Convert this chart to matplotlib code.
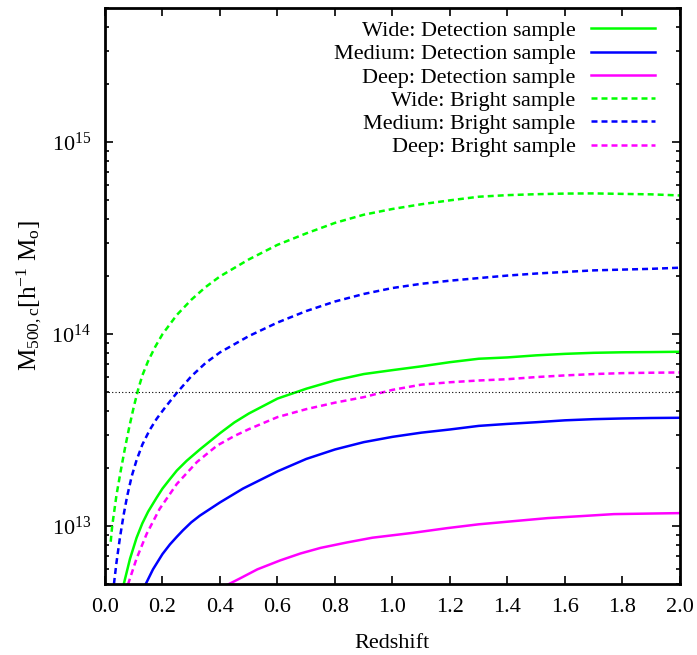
import math
import matplotlib
matplotlib.use("Agg")
import matplotlib.pyplot as plt
from matplotlib.ticker import LogLocator, MultipleLocator, NullFormatter, FixedLocator

plt.rcParams['font.family'] = ['Liberation Serif', 'DejaVu Serif']
plt.rcParams['mathtext.fontset'] = 'stix'

# redshift / mass values (M in h^-1 Msun)
z_wide_det = [0.06, 0.065, 0.087, 0.11, 0.13, 0.15, 0.18, 0.20, 0.226, 0.25, 0.284, 0.33,
              0.40, 0.45, 0.50, 0.60, 0.70, 0.80, 0.90, 1.00, 1.10, 1.20, 1.30, 1.40,
              1.50, 1.60, 1.70, 1.80, 1.90, 2.00]
m_wide_det = [4.57e12, 4.97e12, 6.76e12, 8.71e12, 1.035e13, 1.19e13, 1.41e13, 1.57e13, 1.76e13,
              1.95e13, 2.19e13, 2.51e13, 3.05e13, 3.47e13, 3.86e13, 4.62e13, 5.2e13, 5.75e13,
              6.2e13, 6.5e13, 6.8e13, 7.15e13, 7.45e13, 7.57e13, 7.76e13, 7.9e13, 8.0e13,
              8.05e13, 8.07e13, 8.1e13]

z_med_det = [0.141, 0.167, 0.20, 0.226, 0.25, 0.271, 0.30, 0.33, 0.40, 0.48, 0.60, 0.70,
             0.80, 0.90, 1.00, 1.10, 1.20, 1.30, 1.40, 1.50, 1.60, 1.70, 1.80, 1.90, 2.00]
m_med_det = [4.97e12, 5.96e12, 7.16e12, 8.04e12, 8.81e12, 9.51e12, 1.047e13, 1.135e13, 1.33e13,
             1.57e13, 1.93e13, 2.24e13, 2.51e13, 2.74e13, 2.92e13, 3.07e13, 3.19e13, 3.33e13,
             3.41e13, 3.48e13, 3.56e13, 3.61e13, 3.64e13, 3.66e13, 3.67e13]

z_deep_det = [0.428, 0.47, 0.53, 0.61, 0.68, 0.75, 0.84, 0.93, 1.07, 1.19, 1.30, 1.42,
              1.54, 1.65, 1.77, 1.90, 2.00]
m_deep_det = [4.97e12, 5.35e12, 5.96e12, 6.64e12, 7.21e12, 7.71e12, 8.22e12, 8.71e12, 9.23e12,
              9.77e12, 1.023e13, 1.062e13, 1.102e13, 1.127e13, 1.156e13, 1.164e13, 1.17e13]

z_wide_br = [0.020, 0.025, 0.04, 0.055, 0.07, 0.085, 0.10, 0.115, 0.13, 0.15, 0.175, 0.20,
             0.25, 0.30, 0.35, 0.40, 0.50, 0.60, 0.70, 0.80, 0.90, 1.00, 1.10, 1.20,
             1.30, 1.40, 1.50, 1.60, 1.70, 1.80, 1.90, 2.00]
m_wide_br = [8.3e12, 1.0e13, 1.45e13, 1.95e13, 2.57e13, 3.31e13, 4.17e13, 5.13e13, 6.1e13,
             7.24e13, 8.61e13, 1.0e14, 1.26e14, 1.51e14, 1.76e14, 2.0e14, 2.45e14, 2.92e14,
             3.35e14, 3.8e14, 4.19e14, 4.49e14, 4.75e14, 4.98e14, 5.2e14, 5.3e14, 5.36e14,
             5.4e14, 5.41e14, 5.38e14, 5.35e14, 5.28e14]

z_med_br = [0.02, 0.031, 0.04, 0.052, 0.065, 0.077, 0.093, 0.11, 0.13, 0.155, 0.18, 0.21,
            0.25, 0.30, 0.35, 0.40, 0.50, 0.60, 0.70, 0.80, 0.90, 1.00, 1.10, 1.20,
            1.30, 1.40, 1.50, 1.60, 1.70, 1.80, 1.90, 2.00]
m_med_br = [3.5e12, 4.97e12, 6.46e12, 8.71e12, 1.148e13, 1.429e13, 1.82e13, 2.21e13, 2.66e13,
            3.16e13, 3.63e13, 4.17e13, 4.95e13, 6.03e13, 7.08e13, 8.04e13, 9.77e13, 1.15e14,
            1.32e14, 1.48e14, 1.62e14, 1.74e14, 1.83e14, 1.90e14, 1.96e14, 2.02e14, 2.07e14,
            2.11e14, 2.15e14, 2.17e14, 2.19e14, 2.22e14]

z_deep_br = [0.08, 0.11, 0.145, 0.19, 0.25, 0.32, 0.39, 0.45, 0.50, 0.60, 0.70, 0.80,
             0.90, 1.00, 1.10, 1.20, 1.30, 1.40, 1.50, 1.60, 1.70, 1.80, 1.90, 2.00]
m_deep_br = [4.97e12, 6.79e12, 9.12e12, 1.23e13, 1.66e13, 2.16e13, 2.63e13, 2.95e13, 3.2e13,
             3.7e13, 4.07e13, 4.4e13, 4.7e13, 5.13e13, 5.46e13, 5.62e13, 5.74e13, 5.83e13,
             5.98e13, 6.1e13, 6.2e13, 6.27e13, 6.3e13, 6.32e13]

m_threshold = 5e13

fig = plt.figure(figsize=(6.97, 6.55), dpi=100)
ax = fig.add_axes([0.1506, 0.1084, 0.8250, 0.8794])

lw = 1.8
dash = (2.4, 1.6)
ax.plot(z_wide_det, m_wide_det, color="#00ff00", lw=lw, label="Wide: Detection sample")
ax.plot(z_med_det, m_med_det, color="#0000ff", lw=lw, label="Medium: Detection sample")
ax.plot(z_deep_det, m_deep_det, color="#ff00ff", lw=lw, label="Deep: Detection sample")
ax.plot(z_wide_br, m_wide_br, color="#00ff00", lw=lw, dashes=dash, label="Wide: Bright sample")
ax.plot(z_med_br, m_med_br, color="#0000ff", lw=lw, dashes=dash, label="Medium: Bright sample")
ax.plot(z_deep_br, m_deep_br, color="#ff00ff", lw=lw, dashes=dash, label="Deep: Bright sample")
ax.axhline(m_threshold, color="black", lw=0.8, ls=(0, (1, 2)))

ax.set_yscale("log")
ax.set_xlim(0, 2.0)
ax.set_ylim(5e12, 5e15)
ax.xaxis.set_major_locator(MultipleLocator(0.2))
ax.xaxis.set_major_formatter(plt.FuncFormatter(lambda v, p: "%.1f" % v))
ax.yaxis.set_major_locator(FixedLocator([1e13, 1e14, 1e15]))
ax.yaxis.set_major_formatter(plt.FuncFormatter(
    lambda v, p: r"$\mathregular{10^{%d}}$" % round(math.log10(v))))
ax.yaxis.set_minor_locator(LogLocator(base=10, subs=range(2, 10)))
ax.yaxis.set_minor_formatter(NullFormatter())

ax.tick_params(which="both", direction="in", top=True, right=True, width=1.2, labelsize=16)
ax.tick_params(which="major", length=6)
ax.tick_params(which="minor", length=3)
ax.tick_params(axis="x", which="major", pad=10)
ax.tick_params(axis="y", which="major", pad=10)
for s in ax.spines.values():
    s.set_linewidth(2.0)

ax.set_xlabel("Redshift", fontsize=16, labelpad=12)
ax.set_ylabel(r"$\mathregular{M_{500,c}[h^{-1}\ M_o]}$", fontsize=18, labelpad=5)

leg = ax.legend(loc="upper right", bbox_to_anchor=(0.957, 0.978), frameon=False,
                markerfirst=False, fontsize=16, handlelength=2.9, handletextpad=0.68,
                labelspacing=0.12, borderpad=0, borderaxespad=0)

fig.savefig("out.png", dpi=100)
